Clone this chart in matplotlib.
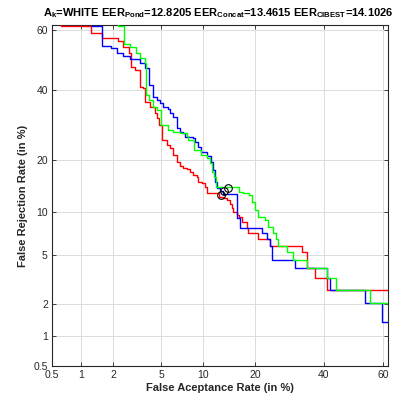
import math
import numpy as np
import matplotlib
matplotlib.use("Agg")
import matplotlib.pyplot as plt
from statistics import NormalDist

# DET curves: false acceptance / false rejection rates (%) at each step corner
pond_fa = [0.62, 0.62, 1.25, 1.58, 2.19, 2.46, 2.73, 2.84, 3.10, 3.41,
           3.59, 3.75, 4.11, 4.50, 4.66, 4.83, 5.07, 5.53, 5.85, 6.16,
           6.59, 6.92, 7.27, 7.71, 8.13, 8.56, 9.03, 9.25, 9.74, 10.24,
           10.50, 12.59, 13.31, 13.95, 14.58, 14.92, 15.24, 15.93, 16.48, 16.99,
           18.10, 18.39, 20.82, 23.81, 32.94, 34.50, 37.15, 40.98, 65.0]
pond_fr = [65.0, 61.26, 59.09, 57.25, 56.45, 54.46, 52.35, 47.75, 46.64, 41.11,
           40.58, 36.28, 34.71, 32.77, 31.27, 29.21, 25.03, 23.71, 22.94, 21.19,
           19.53, 18.61, 18.16, 17.94, 17.35, 16.65, 16.30, 15.28, 14.97, 14.31,
           13.09, 12.49, 12.22, 11.93, 11.27, 10.64, 10.08, 9.60, 9.27, 8.67,
           7.83, 7.23, 6.56, 5.87, 5.28, 3.98, 3.31, 2.64, 2.64]

concat_fa = [1.27, 1.27, 1.59, 1.90, 2.18, 2.46, 2.81, 3.41, 3.75, 4.06,
             4.36, 4.64, 4.92, 5.21, 5.68, 5.85, 6.19, 6.55, 6.92, 7.30,
             7.51, 8.56, 8.79, 9.25, 9.60, 10.50, 11.13, 11.56, 11.85, 12.14,
             12.72, 13.31, 16.06, 16.63, 21.67, 22.94, 23.81, 24.26, 30.89, 40.98,
             42.08, 53.96, 59.57, 65.0]
concat_fr = [65.0, 61.26, 54.69, 53.92, 52.25, 51.34, 50.23, 48.89, 47.21, 41.66,
             37.87, 36.82, 35.77, 34.71, 33.91, 32.68, 31.66, 28.27, 27.31, 26.86,
             25.92, 25.49, 24.58, 23.27, 22.01, 20.95, 19.60, 17.72, 15.28, 14.01,
             13.51, 12.97, 9.18, 7.83, 7.23, 6.56, 5.87, 4.61, 3.98, 3.32,
             2.64, 2.03, 1.37, 1.37]

cibest_fa = [2.21, 2.21, 2.50, 2.81, 3.16, 3.41, 3.71, 3.78, 4.06, 4.36,
             4.69, 4.98, 5.68, 6.19, 6.92, 7.71, 7.91, 8.66, 9.60, 10.50,
             11.02, 11.30, 11.68, 12.02, 16.48, 17.34, 18.69, 19.24, 20.02, 20.82,
             22.50, 23.36, 24.69, 25.42, 26.06, 28.44, 30.38, 34.50, 41.18, 44.10,
             55.65, 65.0]
cibest_fr = [65.0, 61.26, 55.36, 54.46, 52.25, 50.57, 48.99, 38.41, 36.82, 34.71,
             33.69, 29.21, 27.78, 27.31, 27.08, 26.12, 25.03, 22.43, 21.19, 20.47,
             19.23, 17.35, 16.30, 14.20, 13.38, 13.14, 12.79, 11.65, 10.34, 9.27,
             8.90, 8.03, 7.23, 6.56, 5.87, 5.28, 4.61, 3.98, 3.31, 2.64,
             2.03, 2.03]

eer_values = [12.8205, 13.4615, 14.1026]
series_names = ["Pond", "Concat", "CIBEST"]
series_colors = ["#ff0000", "#0000ff", "#00ff00"]
tick_values = [0.5, 1, 2, 5, 10, 20, 40, 60]
tick_labels = ["0.5", "1", "2", "5", "10", "20", "40", "60"]

# normal-deviate (probit) axis scale
_nd = NormalDist()


def _inv(p):
    if not math.isfinite(p):
        return float("nan")
    return _nd.inv_cdf(min(max(p, 1e-9), 1 - 1e-9))


def _fwd(z):
    if not math.isfinite(z):
        return float("nan")
    return _nd.cdf(z)


_ppf = np.vectorize(_inv, otypes=[float])
_cdf = np.vectorize(_fwd, otypes=[float])


def to_probit(v):
    return _ppf(np.asarray(v, dtype=float) / 100.0)


def from_probit(z):
    return _cdf(np.asarray(z, dtype=float)) * 100.0


plt.rcParams["font.family"] = ["Liberation Sans", "DejaVu Sans"]
plt.rcParams["mathtext.fontset"] = "custom"
plt.rcParams["mathtext.rm"] = "Liberation Sans:bold"
plt.rcParams["mathtext.bf"] = "Liberation Sans:bold"
plt.rcParams["mathtext.it"] = "Liberation Sans:bold"

fig = plt.figure(figsize=(3.93, 3.94), dpi=100)
ax = fig.add_axes([0.1323, 0.0711, 0.855, 0.8654])
ax.set_xscale("function", functions=(to_probit, from_probit))
ax.set_yscale("function", functions=(to_probit, from_probit))

curves = [(pond_fa, pond_fr), (concat_fa, concat_fr), (cibest_fa, cibest_fr)]
for (fa, fr), col in zip(curves, series_colors):
    ax.plot(fa, fr, color=col, lw=1.0, drawstyle="steps-post", zorder=3)

ax.plot(eer_values, eer_values, "o", mfc="none", mec="black", ms=5.5, mew=0.8, zorder=4)

lim = (0.5, 61.6)
ax.set_xlim(*lim)
ax.set_ylim(*lim)
ax.set_xticks(tick_values)
ax.set_xticklabels(tick_labels)
ax.set_yticks(tick_values)
ax.set_yticklabels(tick_labels)
ax.minorticks_off()
ax.grid(True, color="#dcdcdc", lw=0.7, zorder=0)
ax.tick_params(direction="in", length=3, width=0.6, labelsize=7.5,
               colors="#262626", top=True, right=True, pad=3)
for s in ax.spines.values():
    s.set_linewidth(0.8)
    s.set_color("#262626")

ax.set_xlabel("False Aceptance Rate (in %)", fontsize=8, fontweight="bold",
              color="#262626", labelpad=2)
ax.set_ylabel("False Rejection Rate (in %)", fontsize=8, fontweight="bold",
              color="#262626", labelpad=4)

title = (r"A$_{\mathbf{k}}$=WHITE EER$_{\mathbf{" + series_names[0] + "}}$=" + f"{eer_values[0]:.4f}"
         + r" EER$_{\mathbf{" + series_names[1] + "}}$=" + f"{eer_values[1]:.4f}"
         + r" EER$_{\mathbf{" + series_names[2] + "}}$=" + f"{eer_values[2]:.4f}")
ax.text(0.5 - 2.0 / 336, 1.0 + 5.0 / 341, title, transform=ax.transAxes,
        ha="center", va="bottom", fontsize=8.0, fontweight="bold")

fig.savefig("out.png", dpi=100)
